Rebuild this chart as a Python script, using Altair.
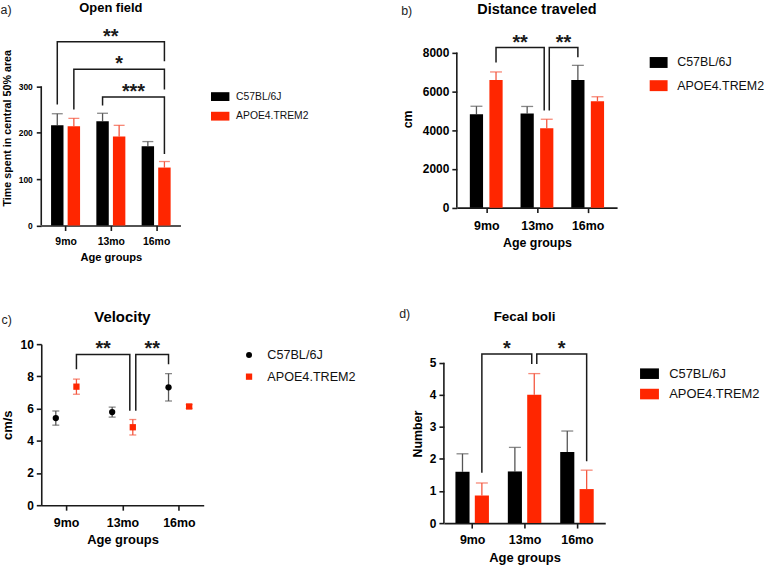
import json
import altair as alt
import pandas as pd

FONT = "Liberation Sans"
INK = "#1a1a1a"
BAR_COLORS = ["#000000", "#ff2600"]
ERR_COLORS = ["#555555", "#f4573f"]

age_groups = ["9mo", "13mo", "16mo"]
strains = ["C57BL/6J", "APOE4.TREM2"]

# Open field: time spent in the central 50% area (mean, SEM)
open_b6 = [216, 225, 171]
open_b6_sem = [25, 17, 10]
open_tg = [214, 192, 125]
open_tg_sem = [17, 24, 13]

# Distance traveled (cm)
dist_b6 = [4820, 4860, 6590]
dist_b6_sem = [410, 360, 750]
dist_tg = [6590, 4100, 5490]
dist_tg_sem = [410, 460, 230]

# Velocity (cm/s)
vel_b6 = [5.41, 5.78, 7.32]
vel_b6_sem = [0.44, 0.31, 0.85]
vel_tg = [7.36, 4.84, 6.13]
vel_tg_sem = [0.47, 0.48, 0.12]

# Fecal boli (number)
boli_b6 = [1.60, 1.61, 2.22]
boli_b6_sem = [0.56, 0.75, 0.65]
boli_tg = [0.86, 4.00, 1.06]
boli_tg_sem = [0.39, 0.66, 0.59]

# Significance brackets:
# (stars, left group, left strain, left foot, top, right group, right strain, right foot)
open_sig = [
    ("**", "9mo", "C57BL/6J", 261, 396, "16mo", "APOE4.TREM2", 354),
    ("*", "9mo", "APOE4.TREM2", 250, 337, "16mo", "APOE4.TREM2", 293),
    ("***", "13mo", "C57BL/6J", 259, 277, "16mo", "APOE4.TREM2", 154),
]
dist_sig = [
    ("**", "9mo", "APOE4.TREM2", 7490, 8256, "13mo", "APOE4.TREM2", 5010),
    ("**", "13mo", "APOE4.TREM2", 5010, 8256, "16mo", "C57BL/6J", 7764),
]
vel_sig = [
    ("**", "9mo", "APOE4.TREM2", 8.44, 9.36, "13mo", "APOE4.TREM2", 5.86),
    ("**", "13mo", "APOE4.TREM2", 5.86, 9.36, "16mo", "C57BL/6J", 8.75),
]
boli_sig = [
    ("*", "9mo", "APOE4.TREM2", 1.57, 5.27, "13mo", "APOE4.TREM2", 4.96),
    ("*", "13mo", "APOE4.TREM2", 4.96, 5.27, "16mo", "APOE4.TREM2", 1.93),
]


def xpos(group, strain, off):
    side = -1 if strain == strains[0] else 1
    return age_groups.index(group) + side * off


def group_frame(b6, b6_sem, tg, tg_sem, off):
    rows = []
    for i, g in enumerate(age_groups):
        for s, vals, sems in ((strains[0], b6, b6_sem), (strains[1], tg, tg_sem)):
            m, e = vals[i], sems[i]
            rows.append(dict(group=g, strain=s, pos=xpos(g, s, off),
                             mean=m, upper=m + e, lower=m - e))
    return pd.DataFrame(rows)


def bracket_frames(sig, off, nudge):
    lefts = {(b[1], b[2]) for b in sig}
    rights = {(b[5], b[6]) for b in sig}
    shared = lefts & rights
    lines, stars = [], []
    for k, (lab, gl, sl, fl, top, gr, sr, fr) in enumerate(sig):
        xl = xpos(gl, sl, off) + (nudge if (gl, sl) in shared else 0)
        xr = xpos(gr, sr, off) - (nudge if (gr, sr) in shared else 0)
        for j, (x, y) in enumerate(((xl, fl), (xl, top), (xr, top), (xr, fr))):
            lines.append(dict(bid=k, step=j, pos=x, val=y))
        stars.append(dict(pos=(xl + xr) / 2, val=top, stars=lab))
    return pd.DataFrame(lines), pd.DataFrame(stars)


def rect_symbol(ratio):
    return f"M-1,-{ratio}H1V{ratio}H-1Z"


def legend_layers(shapes, sizes, cx, tx, rows, fs):
    out = []
    for k, s in enumerate(strains):
        one = pd.DataFrame({"strain": [s]})
        out.append(alt.Chart(one).mark_point(shape=shapes[k], size=sizes[k], filled=True,
                                             opacity=1, strokeWidth=0).encode(
            x=alt.value(cx), y=alt.value(rows[k]), color=alt.value(BAR_COLORS[k])))
        out.append(alt.Chart(one).mark_text(font=FONT, fontSize=fs, align="left",
                                            baseline="middle", color="#111111").encode(
            x=alt.value(tx), y=alt.value(rows[k]), text="strain:N"))
    return out


def label(text, x, y, size, bold=False, align="left", baseline="middle", color="#222222"):
    return alt.Chart(pd.DataFrame({"t": [text]})).mark_text(
        font=FONT, fontSize=size, fontWeight="bold" if bold else "normal",
        align=align, baseline=baseline, color=color).encode(
        x=alt.value(x), y=alt.value(y), text="t:N")


def panel(tag, title, ytitle, b6, b6_sem, tg, tg_sem, sig, *, points=False,
          width, height, xpad, ymax, yticks, off, nudge=0.05, bar_w=13, cap_w=11,
          fs_title, title_y, fs_xlab, fs_ylab, fs_xtitle, fs_ytitle,
          ytitle_pad, xtitle_pad, xlab_pad, ylab_pad,
          fs_leg, leg_cx, leg_tx, leg_rows, leg_shapes, leg_sizes,
          tag_x, tag_y, star_size=20):
    df = group_frame(b6, b6_sem, tg, tg_sem, off)
    lines, stars = bracket_frames(sig, off, nudge)
    label_expr = f"{json.dumps(age_groups)}[datum.value]"
    show_domain = ymax <= yticks[-1]

    x_axis = alt.Axis(values=[0, 1, 2], labelExpr=label_expr, title="Age groups",
                      labelFontSize=fs_xlab, titleFontSize=fs_xtitle,
                      labelPadding=xlab_pad, titlePadding=xtitle_pad)
    y_axis = alt.Axis(values=yticks, format="d", title=ytitle, domain=show_domain,
                      labelFontSize=fs_ylab, titleFontSize=fs_ytitle,
                      labelPadding=ylab_pad, titlePadding=ytitle_pad)
    xs = alt.Scale(domain=[-xpad, 2 + xpad], nice=False, zero=False)
    ys = alt.Scale(domain=[0, ymax], nice=False)

    def X(field):
        return alt.X(f"{field}:Q", scale=xs, axis=x_axis, title="Age groups")

    def Y(field):
        return alt.Y(f"{field}:Q", scale=ys, axis=y_axis, title=ytitle, stack=None)

    color_scale = alt.Scale(domain=strains, range=BAR_COLORS)
    err_stroke = alt.Stroke("strain:N", scale=alt.Scale(domain=strains, range=ERR_COLORS), legend=None)
    err_fill = alt.Fill("strain:N", scale=alt.Scale(domain=strains, range=ERR_COLORS), legend=None)

    base = alt.Chart(df)
    layers = []
    if points:
        err = base.mark_rule(strokeWidth=1.3).encode(x=X("pos"), y=Y("lower"), y2="upper", stroke=err_stroke)
        cap_hi = base.mark_tick(orient="horizontal", size=cap_w, thickness=1.3).encode(
            x=X("pos"), y=Y("upper"), fill=err_fill)
        cap_lo = base.mark_tick(orient="horizontal", size=cap_w, thickness=1.3).encode(
            x=X("pos"), y=Y("lower"), fill=err_fill)
        marks = base.mark_point(filled=True, size=40, opacity=1).encode(
            x=X("pos"), y=Y("mean"),
            color=alt.Color("strain:N", scale=color_scale, legend=None),
            shape=alt.Shape("strain:N", scale=alt.Scale(domain=strains, range=["circle", "square"]),
                            legend=None),
        )
        layers += [err, cap_hi, cap_lo, marks]
    else:
        bars = base.mark_bar(size=bar_w, orient="vertical").encode(
            x=X("pos"), y=Y("mean"),
            color=alt.Color("strain:N", scale=color_scale, legend=None),
        )
        err = base.mark_rule(strokeWidth=1.3).encode(x=X("pos"), y=Y("mean"), y2="upper", stroke=err_stroke)
        cap = base.mark_tick(orient="horizontal", size=cap_w, thickness=1.3).encode(
            x=X("pos"), y=Y("upper"), fill=err_fill)
        layers += [err, cap, bars]

    if not show_domain:
        # y axis line stops at the last labelled tick
        axis_line = alt.Chart(pd.DataFrame({"lo": [0], "hi": [yticks[-1]]})).mark_rule(
            color=INK, strokeWidth=1.6).encode(x=alt.value(0), y=Y("lo"), y2="hi")
        layers.append(axis_line)

    brackets = alt.Chart(lines).mark_line(color=INK, strokeWidth=1.5, strokeJoin="miter").encode(
        x=X("pos"), y=Y("val"), detail="bid:N", order="step:Q")
    star_text = alt.Chart(stars).mark_text(font=FONT, fontWeight="bold", fontSize=star_size,
                                           baseline="alphabetic", dy=1, color=INK).encode(
        x=X("pos"), y=Y("val"), text="stars:N")
    layers += [brackets, star_text]
    layers.append(label(tag, tag_x, tag_y, 12.5))
    layers.append(label(title, width / 2, title_y, fs_title, bold=True, align="center",
                        baseline="alphabetic", color="#000000"))
    layers += legend_layers(leg_shapes, leg_sizes, leg_cx, leg_tx, leg_rows, fs_leg)

    return alt.layer(*layers).properties(width=width, height=height)


pa = panel("a)", "Open field", "Time spent in central 50% area",
           open_b6, open_b6_sem, open_tg, open_tg_sem, open_sig,
           width=140, height=196.7, xpad=0.427, ymax=421.5, yticks=[0, 100, 200, 300],
           off=0.183, bar_w=12.5, cap_w=11,
           fs_title=13, title_y=-18, fs_xlab=10.5, fs_ylab=8.5, fs_xtitle=11.2, fs_ytitle=10.8,
           ytitle_pad=6, xtitle_pad=5, xlab_pad=6, ylab_pad=4,
           fs_leg=10.4, leg_cx=180, leg_tx=196, leg_rows=[67, 86.7],
           leg_shapes=[rect_symbol(0.48)] * 2, leg_sizes=[342, 342],
           tag_x=-41, tag_y=-20)

pb = panel("b)", "Distance traveled", "cm",
           dist_b6, dist_b6_sem, dist_tg, dist_tg_sem, dist_sig,
           width=161.2, height=178.7, xpad=0.482, ymax=9164, yticks=[0, 2000, 4000, 6000, 8000],
           off=0.193, bar_w=13.3, cap_w=12,
           fs_title=14.5, title_y=-15.6, fs_xlab=12.5, fs_ylab=12, fs_xtitle=12.5, fs_ytitle=12.5,
           ytitle_pad=8, xtitle_pad=5, xlab_pad=7, ylab_pad=3,
           fs_leg=12.5, leg_cx=203, leg_tx=221.7, leg_rows=[32.7, 56],
           leg_shapes=[rect_symbol(0.61)] * 2, leg_sizes=[324, 324],
           tag_x=-56, tag_y=-19.5)

pc = panel("c)", "Velocity", "cm/s",
           vel_b6, vel_b6_sem, vel_tg, vel_tg_sem, vel_sig, points=True,
           width=163.4, height=162, xpad=0.441, ymax=10, yticks=[0, 2, 4, 6, 8, 10],
           off=0.183, nudge=0.053, cap_w=7,
           fs_title=15, title_y=-22.3, fs_xlab=12.5, fs_ylab=12, fs_xtitle=13, fs_ytitle=13,
           ytitle_pad=6, xtitle_pad=5, xlab_pad=6, ylab_pad=3,
           fs_leg=12.7, leg_cx=209, leg_tx=227.4, leg_rows=[11, 32.7],
           leg_shapes=["circle", "square"], leg_sizes=[36, 40],
           tag_x=-40, tag_y=-24.3)

pd_ = panel("d)", "Fecal boli", "Number",
            boli_b6, boli_b6_sem, boli_tg, boli_tg_sem, boli_sig,
            width=162.3, height=180, xpad=0.445, ymax=5.578, yticks=[0, 1, 2, 3, 4, 5],
            off=0.185, nudge=0.048, bar_w=14.2, cap_w=12,
            fs_title=13.5, title_y=-23.3, fs_xlab=12.5, fs_ylab=12, fs_xtitle=13, fs_ytitle=12.5,
            ytitle_pad=5, xtitle_pad=5, xlab_pad=6, ylab_pad=3,
            fs_leg=13, leg_cx=206.8, leg_tx=226.6, leg_rows=[29.7, 50.2],
            leg_shapes=[rect_symbol(0.56)] * 2, leg_sizes=[361, 361],
            tag_x=-45, tag_y=-30.2)

indep = dict(color="independent", shape="independent", stroke="independent", fill="independent")
row1 = alt.hconcat(pa, pb, spacing=93).resolve_scale(**indep)
row2 = alt.hconcat(pc, pd_, spacing=43).resolve_scale(**indep)

chart = (
    alt.vconcat(row1, row2, spacing=44)
    .resolve_scale(**indep)
    .properties(padding={"left": 0.5, "top": 0.5, "right": 2, "bottom": 2}, background="white")
    .configure_view(stroke=None)
    .configure_axis(
        labelFont=FONT, titleFont=FONT, labelFontWeight="bold", titleFontWeight="bold",
        labelColor="#000000", titleColor="#000000", grid=False,
        domainColor=INK, domainWidth=1.6, tickColor=INK, tickWidth=1.6, tickSize=5,
    )
)

chart.save("out.html", embed_options={"renderer": "svg", "actions": False})
